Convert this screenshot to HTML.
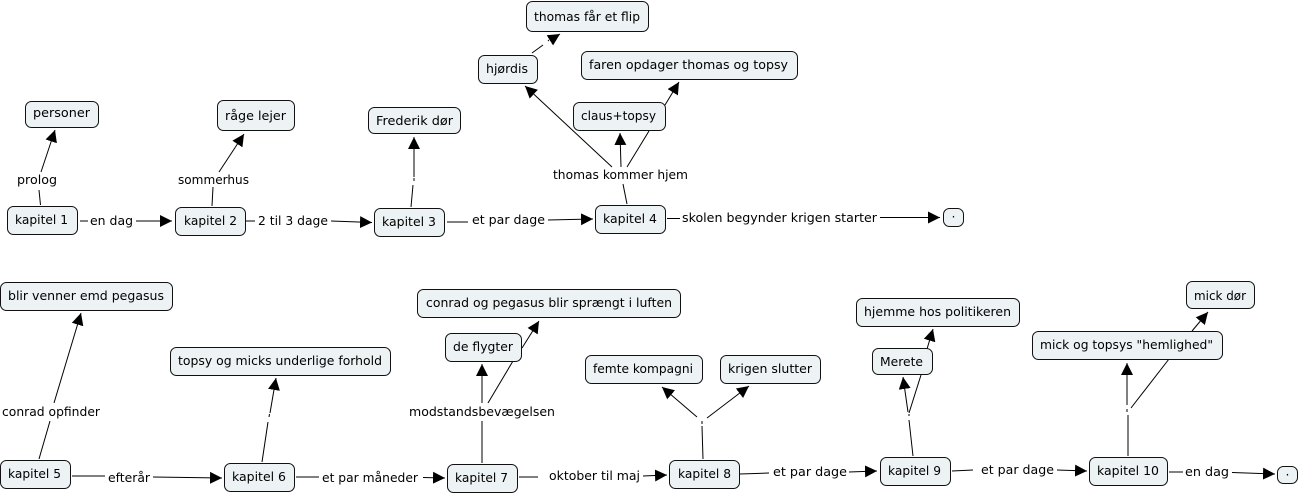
<!DOCTYPE html>
<html><head><meta charset="utf-8">
<style>
html,body{margin:0;padding:0;background:#fff}
svg{display:block}
text{font-family:"DejaVu Sans","Liberation Sans",sans-serif;font-size:12.5px;fill:#000}
.n rect{fill:#edf3f5;stroke:#111;stroke-width:1}
.l{stroke:#000;stroke-width:1;fill:none}
.a{stroke:#000;stroke-width:1;fill:none;marker-end:url(#h)}
</style></head><body>
<svg xmlns="http://www.w3.org/2000/svg" width="1299" height="495" viewBox="0 0 1299 495">
<defs><marker id="h" markerUnits="userSpaceOnUse" markerWidth="13" markerHeight="13" refX="12" refY="6" orient="auto"><polygon points="0,0 12,6 0,12" fill="#000"/></marker></defs>

<!-- connectors top -->
<path class="l" d="M40.5 205L39 190"/><path class="a" d="M41 172L55 130"/>
<path class="l" d="M212 206L213 187"/><path class="a" d="M219 172L244 134"/>
<path class="l" d="M411 207L413 185M414 178L414 181"/><path class="a" d="M414 177L414 137"/>
<path class="l" d="M627 204L623 184"/>
<path class="a" d="M612 167L525 86"/><path class="a" d="M621 167L620 133"/>
<path class="l" d="M627 167L649 131"/><path class="a" d="M665 105L679 82"/>
<path class="l" d="M532 53L543 45M548 41L549 40"/><path class="a" d="M552 39L560 34"/>
<path class="l" d="M80 221L88 221"/><path class="a" d="M136 221L172 221"/>
<path class="l" d="M246 221L255 221"/><path class="a" d="M331 221L372 222.5"/>
<path class="l" d="M447 222L468 222"/><path class="a" d="M548 220L593 219"/>
<path class="l" d="M667 218.5L680 218.5"/><path class="a" d="M880 217.5L940 217.5"/>

<!-- connectors bottom -->
<path class="l" d="M39 459L50 421"/><path class="a" d="M54 403L81 313"/>
<path class="l" d="M262 462L268 422M269 417L269.5 414"/><path class="a" d="M270 413L276 378"/>
<path class="l" d="M482 463L482 421"/><path class="a" d="M482 403L482 364"/>
<path class="l" d="M488 403L513 361"/><path class="a" d="M522 348L539 321"/>
<path class="l" d="M703 459L702 426M702 421L702 424"/><path class="a" d="M697 417L662 387"/><path class="a" d="M707 418L749 386"/>
<path class="l" d="M913 456L909 420M909 413L921 375M909 414L909 416"/><path class="a" d="M908 412L903 377"/><path class="a" d="M927 349L933 329"/>
<path class="l" d="M1128 456L1128 415M1131 408L1169 359M1127 409L1127 412"/><path class="a" d="M1127 405L1127 363"/><path class="a" d="M1192 331L1208 312"/>
<path class="l" d="M72 476L105 476"/><path class="a" d="M153 477L222 478"/>
<path class="l" d="M296 477L319 477"/><path class="a" d="M423 477.5L445 478"/>
<path class="l" d="M519 477L538 477"/><path class="a" d="M643 476L667 475"/>
<path class="l" d="M740 474L769 473"/><path class="a" d="M849 472L877 471"/>
<path class="l" d="M952 471L973 470"/><path class="a" d="M1057 470L1087 471"/>
<path class="l" d="M1169 472L1183 472"/><path class="a" d="M1232 472.5L1275 474"/>

<!-- link labels -->
<g lengthAdjust="spacingAndGlyphs">
<text x="17" y="184" textLength="40" lengthAdjust="spacingAndGlyphs">prolog</text>
<text x="178" y="184" textLength="71" lengthAdjust="spacingAndGlyphs">sommerhus</text>
<text x="553" y="179" textLength="135" lengthAdjust="spacingAndGlyphs">thomas kommer hjem</text>
<text x="90" y="225" textLength="43" lengthAdjust="spacingAndGlyphs">en dag</text>
<text x="258" y="225" textLength="70" lengthAdjust="spacingAndGlyphs">2 til 3 dage</text>
<text x="472" y="224" textLength="73" lengthAdjust="spacingAndGlyphs">et par dage</text>
<text x="682" y="222" textLength="195" lengthAdjust="spacingAndGlyphs">skolen begynder krigen starter</text>
<text x="2" y="416" textLength="98" lengthAdjust="spacingAndGlyphs">conrad opfinder</text>
<text x="409" y="416" textLength="146" lengthAdjust="spacingAndGlyphs">modstandsbevægelsen</text>
<text x="108" y="482" textLength="42" lengthAdjust="spacingAndGlyphs">efterår</text>
<text x="322" y="482" textLength="96" lengthAdjust="spacingAndGlyphs">et par måneder</text>
<text x="549" y="480" textLength="91" lengthAdjust="spacingAndGlyphs">oktober til maj</text>
<text x="773" y="476" textLength="74" lengthAdjust="spacingAndGlyphs">et par dage</text>
<text x="981" y="474" textLength="73" lengthAdjust="spacingAndGlyphs">et par dage</text>
<text x="1185" y="476" textLength="44" lengthAdjust="spacingAndGlyphs">en dag</text>
</g>

<!-- nodes -->
<g class="n">
<rect x="25.5" y="101.5" width="73" height="26" rx="6"/><text x="33" y="117" textLength="57" lengthAdjust="spacingAndGlyphs">personer</text>
<rect x="217.5" y="100.5" width="77" height="30" rx="6"/><text x="225" y="120" textLength="61" lengthAdjust="spacingAndGlyphs">råge lejer</text>
<rect x="368.5" y="107.5" width="92" height="26" rx="6"/><text x="376" y="125" textLength="77" lengthAdjust="spacingAndGlyphs">Frederik dør</text>
<rect x="526.5" y="1.5" width="122" height="30" rx="6"/><text x="534" y="21" textLength="106" lengthAdjust="spacingAndGlyphs">thomas får et flip</text>
<rect x="478.5" y="55.5" width="59" height="28" rx="6"/><text x="486" y="73" textLength="42" lengthAdjust="spacingAndGlyphs">hjørdis</text>
<rect x="581.5" y="51.5" width="216" height="28" rx="6"/><text x="589" y="69" textLength="199" lengthAdjust="spacingAndGlyphs">faren opdager thomas og topsy</text>
<rect x="573.5" y="102.5" width="92" height="28" rx="6"/><text x="581" y="120" textLength="75" lengthAdjust="spacingAndGlyphs">claus+topsy</text>
<rect x="7.5" y="206.5" width="70" height="28" rx="6"/><text x="15" y="224" textLength="53" lengthAdjust="spacingAndGlyphs">kapitel 1</text>
<rect x="175.5" y="207.5" width="70" height="28" rx="6"/><text x="184" y="225" textLength="53" lengthAdjust="spacingAndGlyphs">kapitel 2</text>
<rect x="374.5" y="208.5" width="70" height="28" rx="6"/><text x="382" y="226" textLength="54" lengthAdjust="spacingAndGlyphs">kapitel 3</text>
<rect x="595.5" y="205.5" width="70" height="28" rx="6"/><text x="603" y="223" textLength="54" lengthAdjust="spacingAndGlyphs">kapitel 4</text>
<rect x="943.5" y="208.5" width="20" height="18" rx="6"/><text x="951.5" y="221">·</text>
<rect x="0.5" y="282.5" width="172" height="28" rx="6"/><text x="8" y="300" textLength="156" lengthAdjust="spacingAndGlyphs">blir venner emd pegasus</text>
<rect x="170.5" y="347.5" width="220" height="28" rx="6"/><text x="178" y="365" textLength="204" lengthAdjust="spacingAndGlyphs">topsy og micks underlige forhold</text>
<rect x="417.5" y="289.5" width="263" height="28" rx="6"/><text x="426" y="307" textLength="246" lengthAdjust="spacingAndGlyphs">conrad og pegasus blir sprængt i luften</text>
<rect x="445.5" y="333.5" width="76" height="28" rx="6"/><text x="453" y="351" textLength="60" lengthAdjust="spacingAndGlyphs">de flygter</text>
<rect x="585.5" y="355.5" width="117" height="28" rx="6"/><text x="593" y="373" textLength="100" lengthAdjust="spacingAndGlyphs">femte kompagni</text>
<rect x="720.5" y="355.5" width="100" height="28" rx="6"/><text x="728" y="373" textLength="84" lengthAdjust="spacingAndGlyphs">krigen slutter</text>
<rect x="856.5" y="298.5" width="163" height="28" rx="6"/><text x="864" y="316" textLength="147" lengthAdjust="spacingAndGlyphs">hjemme hos politikeren</text>
<rect x="872.5" y="348.5" width="60" height="26" rx="6"/><text x="880" y="366" textLength="43" lengthAdjust="spacingAndGlyphs">Merete</text>
<rect x="1186.5" y="281.5" width="68" height="27" rx="6"/><text x="1194" y="300" textLength="52" lengthAdjust="spacingAndGlyphs">mick dør</text>
<rect x="1032.5" y="331.5" width="190" height="28" rx="6"/><text x="1040" y="349" textLength="173" lengthAdjust="spacingAndGlyphs">mick og topsys "hemlighed"</text>
<rect x="0.5" y="460.5" width="70" height="28" rx="6"/><text x="8" y="478" textLength="53" lengthAdjust="spacingAndGlyphs">kapitel 5</text>
<rect x="224.5" y="463.5" width="70" height="28" rx="6"/><text x="232" y="481" textLength="54" lengthAdjust="spacingAndGlyphs">kapitel 6</text>
<rect x="447.5" y="464.5" width="70" height="28" rx="6"/><text x="455" y="482" textLength="53" lengthAdjust="spacingAndGlyphs">kapitel 7</text>
<rect x="669.5" y="460.5" width="70" height="28" rx="6"/><text x="678" y="478" textLength="53" lengthAdjust="spacingAndGlyphs">kapitel 8</text>
<rect x="880.5" y="457.5" width="70" height="28" rx="6"/><text x="888" y="475" textLength="53" lengthAdjust="spacingAndGlyphs">kapitel 9</text>
<rect x="1089.5" y="457.5" width="78" height="28" rx="6"/><text x="1097" y="475" textLength="62" lengthAdjust="spacingAndGlyphs">kapitel 10</text>
<rect x="1277.5" y="466.5" width="20" height="17" rx="6"/><text x="1285.5" y="479">·</text>
</g>
</svg>
</body></html>
